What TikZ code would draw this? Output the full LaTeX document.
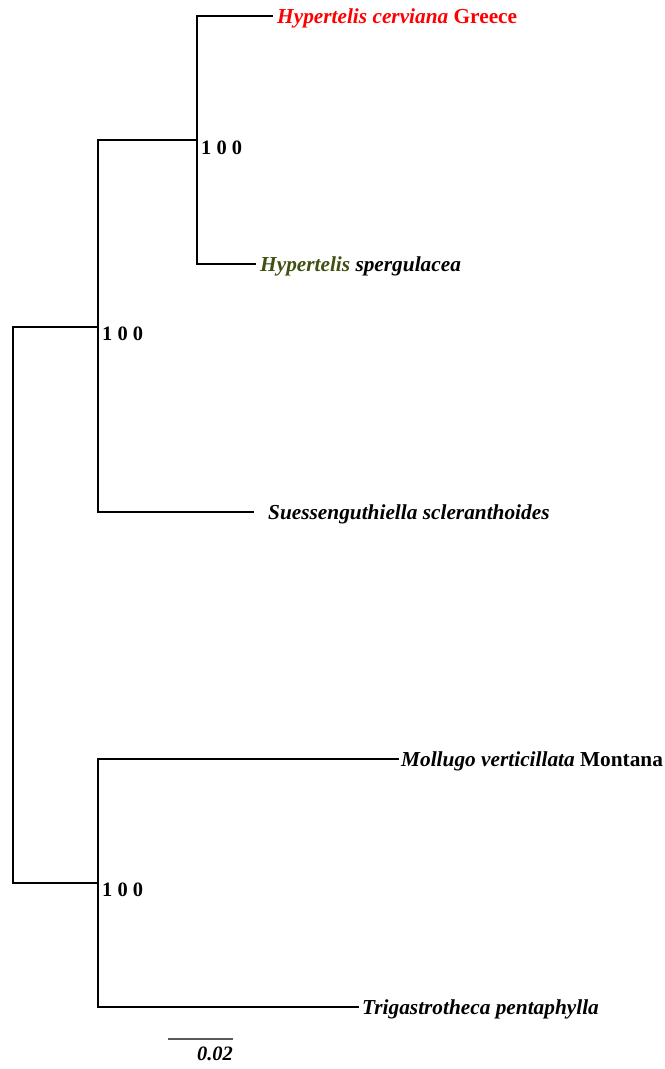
\documentclass[tikz,border=0pt]{standalone}
\usepackage{fontspec}
\setmainfont{Liberation Serif}
\definecolor{hypgreen}{RGB}{62,80,18}
\definecolor{barcolor}{RGB}{90,90,90}
\begin{document}
\begin{tikzpicture}[x=1bp,y=-1bp,
  branch/.style={line width=2.7bp, black, line join=miter, line cap=rect},
  taxon/.style={anchor=base west, inner sep=0pt,
    font=\fontsize{21.4}{24}\selectfont\bfseries},
  support/.style={anchor=base west, inner sep=0pt,
    font=\fontsize{20.5}{24}\selectfont\bfseries},
  scalelabel/.style={anchor=base east, inner sep=0pt,
    font=\fontsize{20.5}{24}\selectfont\bfseries\itshape}]
\useasboundingbox (0,0) rectangle (665,1069);

% internal nodes
\coordinate (root) at (13,604);
\coordinate (cladeA) at (98,327);
\coordinate (cladeH) at (197,140);
\coordinate (cladeM) at (98,883);

% branch tips
\coordinate (tipCer) at (272,16);
\coordinate (tipSpe) at (255,264);
\coordinate (tipSue) at (253,512);
\coordinate (tipMol) at (398,759);
\coordinate (tipTri) at (358,1007);

% scale bar ends
\coordinate (barL) at (168,1039);
\coordinate (barR) at (233,1039);

% branches
\draw[branch] (cladeA) -- (cladeA -| root) -- (cladeM -| root) -- (cladeM);
\draw[branch] (cladeH) -- (cladeH -| cladeA) -- (tipSue -| cladeA) -- (tipSue);
\draw[branch] (tipCer) -- (tipCer -| cladeH) -- (tipSpe -| cladeH) -- (tipSpe);
\draw[branch] (tipMol) -- (tipMol -| cladeM) -- (tipTri -| cladeM) -- (tipTri);

% taxon labels
\node[taxon, text=red] (lCer) at (277,23) {\textit{Hypertelis cerviana} Greece};
\node[taxon] (lSpe) at (260,271) {\textit{\textcolor{hypgreen}{Hypertelis} spergulacea}};
\node[taxon] (lSue) at (268,519) {\textit{Suessenguthiella scleranthoides}};
\node[taxon] (lMol) at (401,766) {\textit{Mollugo verticillata} Montana};
\node[taxon] (lTri) at (362,1014) {\textit{Trigastrotheca pentaphylla}};

% bootstrap support
\node[support] (sH) at (201,154) {1 0 0};
\node[support] (sA) at (102,340) {1 0 0};
\node[support] (sM) at (102,896) {1 0 0};

% scale bar
\draw[barcolor, line width=1.3bp] (barL) -- (barR);
\node[scalelabel] (sLab) at (233,1060) {0.02};
\end{tikzpicture}
\end{document}
